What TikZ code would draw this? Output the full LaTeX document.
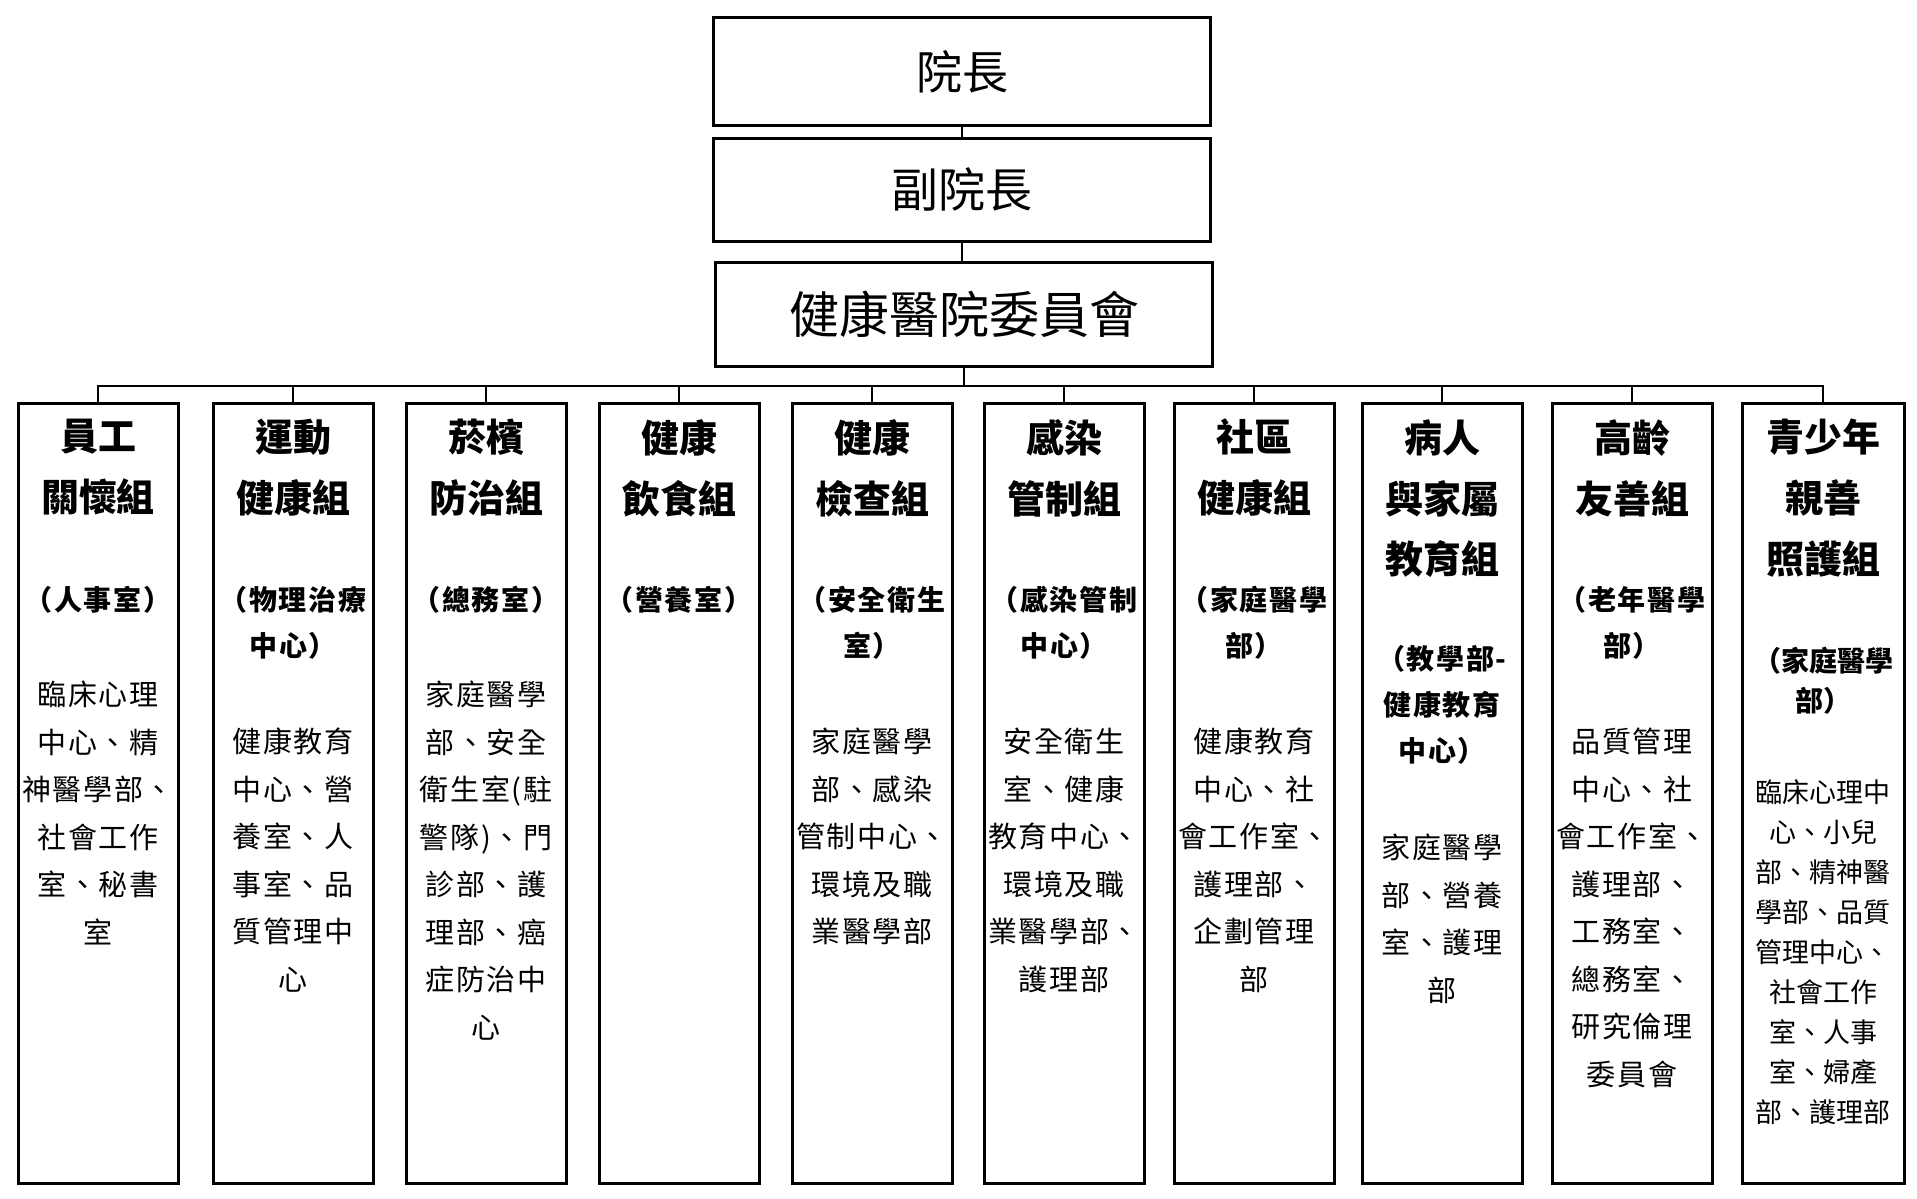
\documentclass[tikz,border=0pt]{standalone}
\usepackage{fontspec}
\newfontfamily\cjk{Noto Sans CJK TC}
\newfontfamily\cjkls{Noto Sans CJK TC}[LetterSpace=6]
\tikzset{
  gbox/.style={draw, line width=3pt, minimum width=160pt, minimum height=780pt, inner sep=0pt},
  topbox/.style={draw, line width=3pt, minimum width=497pt, inner sep=0pt, font=\cjk\fontsize{46}{50}\selectfont},
  ttl/.style={anchor=north, align=center, inner sep=0pt, font=\cjk\bfseries\fontsize{38}{61}\selectfont},
  ptxt/.style={anchor=north, align=center, inner sep=0pt, font=\cjkls\bfseries\fontsize{28}{46}\selectfont},
  body/.style={anchor=north, align=center, inner sep=0pt, font=\cjkls\fontsize{29}{47.5}\selectfont},
  smallbody/.style={anchor=north, align=center, inner sep=0pt, font=\cjk\fontsize{27}{40}\selectfont},
  conn/.style={line width=2.5pt},
}
\begin{document}
\begin{tikzpicture}[x=1pt,y=-1pt]
\useasboundingbox (0,0) rectangle (1917,1199);
% top chain
\node[topbox, minimum height=107pt] (dir) at (962,71.5) {院長};
\node[topbox, minimum height=103pt, font=\cjk\fontsize{47}{50}\selectfont] (vdir) at (962,189.5) {副院長};
\node[topbox, minimum height=104pt, font=\cjk\fontsize{50}{54}\selectfont] (com) at (964,314) {健康醫院委員會};
\draw[conn] (dir.south) -- (vdir.north);
\draw[conn] (vdir.south) -- (vdir.south |- com.north);
% bottom boxes
\node[gbox] (b1) at (98,793) {};
\node[gbox] (b2) at (293,793) {};
\node[gbox] (b3) at (486,793) {};
\node[gbox] (b4) at (679,793) {};
\node[gbox] (b5) at (872,793) {};
\node[gbox] (b6) at (1064,793) {};
\node[gbox] (b7) at (1254,793) {};
\node[gbox] (b8) at (1442,793) {};
\node[gbox] (b9) at (1632,793) {};
\node[gbox, minimum width=162pt] (b10) at (1823,793) {};
% bus
\coordinate (bus) at (964,386);
\draw[conn] (com.south) -- (bus);
\draw[conn] (b1.north) -- (b1.north |- bus) -- (b10.north |- bus) -- (b10.north);
\foreach \i in {2,...,9} { \draw[conn] (b\i.north) -- (b\i.north |- bus); }
% titles
\node[ttl] (t1) at (98,419) {員工\\關懷組};
\node[ttl] (t2) at (293,419) {運動\\健康組};
\node[ttl] (t3) at (486,419) {菸檳\\防治組};
\node[ttl] (t4) at (679,419) {健康\\飲食組};
\node[ttl] (t5) at (872,419) {健康\\檢查組};
\node[ttl] (t6) at (1064,419) {感染\\管制組};
\node[ttl] (t7) at (1254,419) {社區\\健康組};
\node[ttl] (t8) at (1442,419) {病人\\與家屬\\教育組};
\node[ttl] (t9) at (1632,419) {高齡\\友善組};
\node[ttl] (t10) at (1823,419) {青少年\\親善\\照護組};
% parenthetical units
\node[ptxt] (p1) at (98,586) {（人事室）};
\node[ptxt] (p2) at (293,586) {（物理治療\\中心）};
\node[ptxt] (p3) at (486,586) {（總務室）};
\node[ptxt] (p4) at (679,586) {（營養室）};
\node[ptxt] (p5) at (872,586) {（安全衛生\\室）};
\node[ptxt] (p6) at (1064,586) {（感染管制\\中心）};
\node[ptxt] (p7) at (1254,586) {（家庭醫學\\部）};
\node[ptxt] (p8) at (1442,645) {（教學部-\\健康教育\\中心）};
\node[ptxt] (p9) at (1632,586) {（老年醫學\\部）};
\node[ptxt, font=\cjk\bfseries\fontsize{28}{40}\selectfont] (p10) at (1823,647) {（家庭醫學\\部）};
% member units
\node[body] (d1) at (98,681) {臨床心理\\中心、精\\神醫學部、\\社會工作\\室、秘書\\室};
\node[body] (d2) at (293,728) {健康教育\\中心、營\\養室、人\\事室、品\\質管理中\\心};
\node[body] (d3) at (486,681) {家庭醫學\\部、安全\\衛生室(駐\\警隊)、門\\診部、護\\理部、癌\\症防治中\\心};
\node[body] (d5) at (872,728) {家庭醫學\\部、感染\\管制中心、\\環境及職\\業醫學部};
\node[body] (d6) at (1064,728) {安全衛生\\室、健康\\教育中心、\\環境及職\\業醫學部、\\護理部};
\node[body] (d7) at (1254,728) {健康教育\\中心、社\\會工作室、\\護理部、\\企劃管理\\部};
\node[body] (d8) at (1442,834) {家庭醫學\\部、營養\\室、護理\\部};
\node[body] (d9) at (1632,728) {品質管理\\中心、社\\會工作室、\\護理部、\\工務室、\\總務室、\\研究倫理\\委員會};
\node[smallbody] (d10) at (1823,779) {臨床心理中\\心、小兒\\部、精神醫\\學部、品質\\管理中心、\\社會工作\\室、人事\\室、婦產\\部、護理部};
\end{tikzpicture}
\end{document}
